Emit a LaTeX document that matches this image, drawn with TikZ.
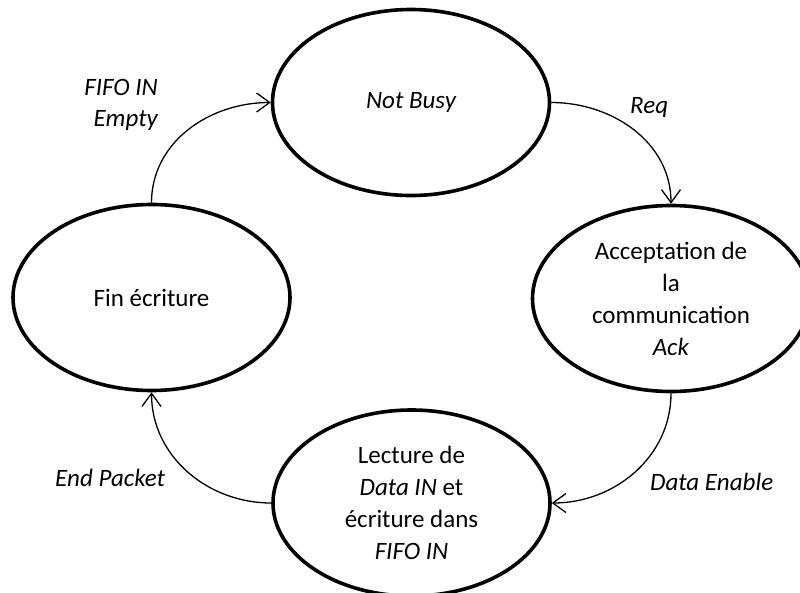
\documentclass[tikz,border=0pt]{standalone}
\usepackage{fontspec}
\setmainfont{Carlito}
\usetikzlibrary{arrows.meta,shapes.geometric}
\begin{document}
\begin{tikzpicture}[x=1pt,y=-1pt,
  state/.style={ellipse,draw=black,line width=3.6pt,minimum width=277pt,minimum height=186pt,inner sep=0pt,align=center,font=\fontsize{25}{32}\selectfont},
  trans/.style={line width=1.3pt,-{Straight Barb[length=13pt,width=19pt,line width=1.3pt]}},
  lbl/.style={font=\fontsize{25}{32}\selectfont\itshape,inner sep=0pt}]
\clip (0,0) rectangle (800,592);
\node[state] (nb) at (411,102.5) {\itshape Not Busy};
\node[state] (acc) at (671,298.5) {Acceptation de\\la\\communication\\\textit{Ack}};
\node[state] (lec) at (411.5,503) {Lecture de\\\textit{Data IN} et\\écriture dans\\\textit{FIFO IN}};
\node[state] (fin) at (151.5,297.5) {Fin écriture};
\draw[trans] (fin.north) to[out=90,in=180] (nb.west);
\draw[trans] (nb.east) to[out=0,in=90] (acc.north);
\draw[trans] (acc.south) to[out=-90,in=0] (lec.east);
\draw[trans] (lec.west) to[out=180,in=-90] (fin.south);
\node[lbl,anchor=base east] (l1a) at (158,95) {FIFO IN};
\node[lbl,anchor=base east] (l1b) at (158,126) {Empty};
\node[lbl,anchor=base west] (l2) at (630,113) {Req};
\node[lbl,anchor=base west] (l3) at (650,490) {Data Enable};
\node[lbl,anchor=base west] (l4) at (55,486) {End Packet};
\end{tikzpicture}
\end{document}
